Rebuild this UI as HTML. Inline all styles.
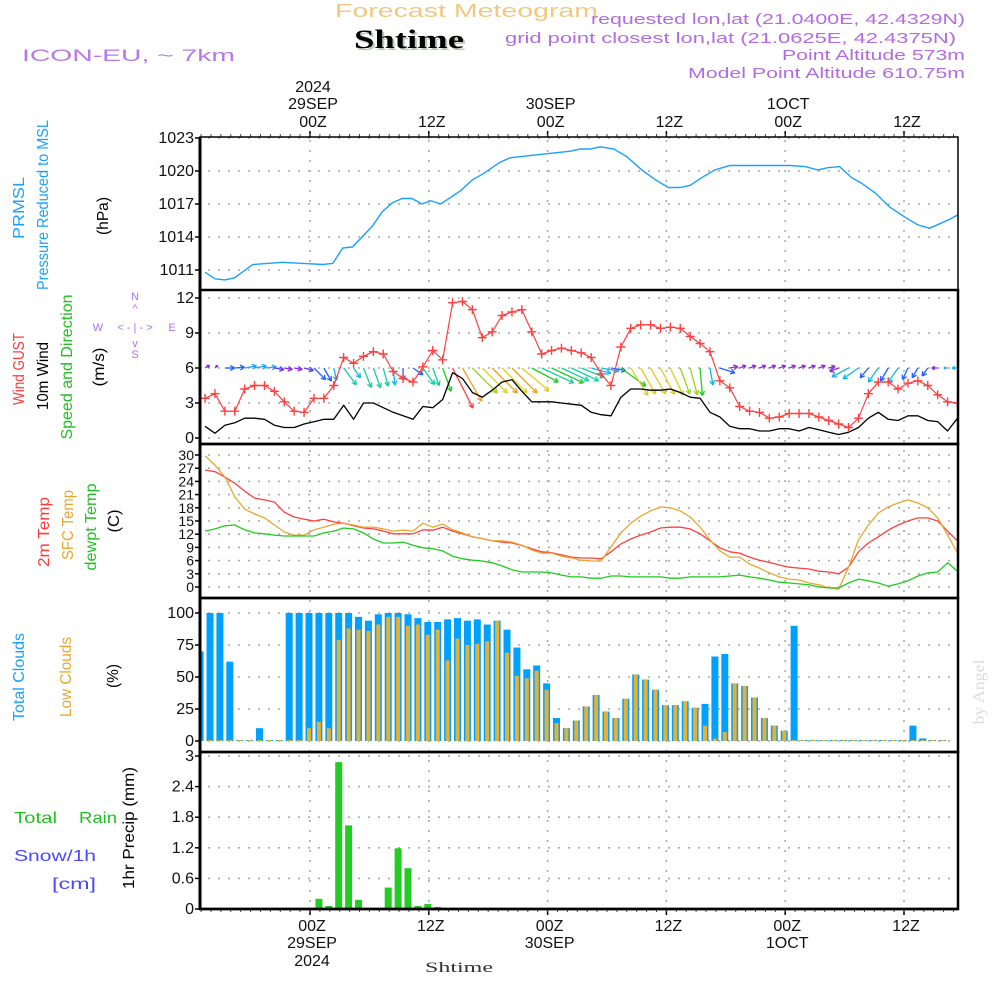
<!DOCTYPE html>
<html><head><meta charset="utf-8"><title>Forecast Meteogram - Shtime</title>
<style>
html,body{margin:0;padding:0;background:#fff;}
svg{display:block;font-family:"Liberation Sans",sans-serif;}
</style></head>
<body>
<svg id="chart" width="1000" height="1000" viewBox="0 0 1000 1000" xmlns="http://www.w3.org/2000/svg">
<rect x="0" y="0" width="1000" height="1000" fill="#fff"/>
<!-- header -->
<g>
<text x="335" y="17" font-size="18" fill="#f2c880" textLength="263" lengthAdjust="spacingAndGlyphs">Forecast Meteogram</text>
<text x="356" y="50" font-size="26" font-weight="bold" font-family="Liberation Serif,serif" fill="#b8ccb8" textLength="110" lengthAdjust="spacingAndGlyphs">Shtime</text>
<text x="354" y="48" font-size="26" font-weight="bold" font-family="Liberation Serif,serif" fill="#000" textLength="110" lengthAdjust="spacingAndGlyphs">Shtime</text>
<text x="22" y="61" font-size="17" fill="#b878e8" textLength="213" lengthAdjust="spacingAndGlyphs">ICON-EU, ~ 7km</text>
<text x="591" y="24" font-size="15" fill="#b26be0" textLength="374" lengthAdjust="spacingAndGlyphs">requested lon,lat (21.0400E, 42.4329N)</text>
<text x="505" y="43" font-size="15" fill="#b26be0" textLength="451" lengthAdjust="spacingAndGlyphs">grid point closest lon,lat (21.0625E, 42.4375N)</text>
<text x="782" y="60" font-size="15" fill="#b26be0" textLength="183" lengthAdjust="spacingAndGlyphs">Point Altitude 573m</text>
<text x="688" y="78" font-size="15" fill="#b26be0" textLength="277" lengthAdjust="spacingAndGlyphs">Model Point Altitude 610.75m</text>
</g>
<g id="grid"></g>
<g id="marks"></g>
<g id="frame"></g>
<g id="axes" font-size="16" fill="#111"></g>
<!-- left side labels -->
<g font-size="16">
<text transform="translate(24,208) rotate(-90)" text-anchor="middle" fill="#1aa0ff" textLength="62" lengthAdjust="spacingAndGlyphs">PRMSL</text>
<text transform="translate(48,205) rotate(-90)" text-anchor="middle" fill="#1aa0ff" textLength="170" lengthAdjust="spacingAndGlyphs">Pressure Reduced to MSL</text>
<text transform="translate(108,216) rotate(-90)" text-anchor="middle" fill="#000" textLength="38" lengthAdjust="spacingAndGlyphs">(hPa)</text>
<text transform="translate(24,369) rotate(-90)" text-anchor="middle" fill="#ff3b3b" textLength="72" lengthAdjust="spacingAndGlyphs">Wind GUST</text>
<text transform="translate(48,376) rotate(-90)" text-anchor="middle" fill="#000" textLength="68" lengthAdjust="spacingAndGlyphs">10m Wind</text>
<text transform="translate(72,367) rotate(-90)" text-anchor="middle" fill="#20c020" textLength="145" lengthAdjust="spacingAndGlyphs">Speed and Direction</text>
<text transform="translate(104,367) rotate(-90)" text-anchor="middle" fill="#000" textLength="39" lengthAdjust="spacingAndGlyphs">(m/s)</text>
<text transform="translate(49,532) rotate(-90)" text-anchor="middle" fill="#ff3b3b" textLength="70" lengthAdjust="spacingAndGlyphs">2m Temp</text>
<text transform="translate(73,525) rotate(-90)" text-anchor="middle" fill="#e8a830" textLength="70" lengthAdjust="spacingAndGlyphs">SFC Temp</text>
<text transform="translate(96,527) rotate(-90)" text-anchor="middle" fill="#20c020" textLength="87" lengthAdjust="spacingAndGlyphs">dewpt Temp</text>
<text transform="translate(119,521) rotate(-90)" text-anchor="middle" fill="#000" textLength="23" lengthAdjust="spacingAndGlyphs">(C)</text>
<text transform="translate(24,677) rotate(-90)" text-anchor="middle" fill="#1aa0ff" textLength="88" lengthAdjust="spacingAndGlyphs">Total Clouds</text>
<text transform="translate(71,677) rotate(-90)" text-anchor="middle" fill="#e8a830" textLength="80" lengthAdjust="spacingAndGlyphs">Low Clouds</text>
<text transform="translate(118,676) rotate(-90)" text-anchor="middle" fill="#000" textLength="24" lengthAdjust="spacingAndGlyphs">(%)</text>
<text transform="translate(134,828) rotate(-90)" text-anchor="middle" fill="#000" textLength="122" lengthAdjust="spacingAndGlyphs">1hr Precip (mm)</text>
<text x="14" y="823" fill="#20c020" textLength="43" lengthAdjust="spacingAndGlyphs">Total</text>
<text x="79" y="823" fill="#20c020" textLength="38" lengthAdjust="spacingAndGlyphs">Rain</text>
<text x="14" y="861" fill="#4848ff" textLength="82" lengthAdjust="spacingAndGlyphs">Snow/1h</text>
<text x="52" y="889" fill="#4848ff" textLength="44" lengthAdjust="spacingAndGlyphs">[cm]</text>
<text transform="translate(984,692) rotate(-90)" text-anchor="middle" fill="#dcdcdc" font-family="Liberation Serif,serif" textLength="65" lengthAdjust="spacingAndGlyphs">by Angel</text>
</g>
<g font-size="11" fill="#b070f0" text-anchor="middle">
<text x="135" y="300">N</text>
<text x="135" y="312">^</text>
<text x="98" y="331">W</text>
<text x="172" y="331">E</text>
<text x="135" y="331">&lt; - | - &gt;</text>
<text x="135" y="347">v</text>
<text x="135" y="358">S</text>
</g>
<text x="425" y="972" font-size="15" font-family="Liberation Serif,serif" fill="#333" textLength="68" lengthAdjust="spacingAndGlyphs">Shtime</text>
</svg>
<script>
// ---- data ----
const lineStartHour = -10.6;
const windSpeed = [1.0,0.4,1.1,1.3,1.7,1.7,1.6,1.1,0.9,0.9,1.2,1.4,1.6,1.6,2.8,1.6,3.0,3.0,2.6,2.2,1.9,1.6,2.7,2.6,3.3,5.6,5.1,3.9,3.5,4.1,4.8,5.0,4.0,3.1,3.1,3.1,3.0,2.9,2.8,2.2,2.0,1.9,3.5,4.2,4.2,4.1,4.1,4.2,3.9,3.5,3.4,2.2,1.8,1.0,0.8,0.8,0.6,0.6,0.8,0.8,0.6,0.9,0.7,0.5,0.3,0.5,0.9,1.7,2.2,1.6,1.5,1.9,1.9,1.5,1.4,0.6,1.7];
const windGust = [3.4,3.8,2.3,2.3,4.2,4.5,4.5,4.0,3.1,2.3,2.2,3.4,3.4,4.5,6.9,6.4,7.0,7.4,7.2,5.7,5.1,4.8,6.1,7.5,6.7,11.6,11.7,11.0,8.6,9.1,10.5,10.8,11.0,9.1,7.2,7.5,7.7,7.5,7.3,6.9,5.5,4.5,7.8,9.4,9.7,9.7,9.4,9.5,9.4,8.7,8.1,7.4,4.9,4.3,2.7,2.3,2.2,1.7,1.8,2.1,2.1,2.1,1.8,1.5,1.2,0.9,1.7,3.8,4.8,4.8,4.2,4.7,4.9,4.5,3.7,3.1,3.0];
const windDir = [-30,-45,0,-5,-10,-10,-5,10,10,10,15,45,60,77,53,55,68,70,75,84,90,34,55,70,70,63,60,45,45,45,45,45,40,28,25,25,25,25,22,15,10,10,36,58,60,60,62,65,70,75,85,80,18,-10,-20,-20,-20,-20,-20,-20,-20,-20,-20,-15,160,152,145,130,125,120,125,115,120,125,180,180,180];
const arrowSpeed = [0.7,0.5,1.3,1.3,1.6,1.6,1.6,1.3,1.1,1.1,1.3,2.2,2.0,1.7,2.8,1.6,2.8,2.8,2.5,2.3,1.6,1.6,2.7,2.5,3.3,6.0,5.1,4.7,4.7,4.7,4.7,4.7,4.7,4.0,4.7,4.7,4.0,4.0,3.3,2.7,2.4,2.0,4.1,4.3,4.0,4.0,4.0,4.0,3.7,3.7,3.7,2.3,2.1,1.1,0.9,0.9,0.9,0.9,0.9,0.9,0.9,0.9,0.9,0.9,1.3,2.5,2.5,1.7,2.3,2.0,2.3,1.7,1.5,1.3,0.8,0.5,0.7];
const arrowColorKey = ['pu','pu','bl','bl','lb','lb','lb','bv','pu','pu','bv','bl','bl','cy','te','cy','te','te','te','cy','bl','bl','te','te','gr','rd','or','yg','ye','or','ye','or','ye','gr','te','gr','te','te','te','cy','cy','bl','gr','ye','ye','ye','ye','ye','yg','yg','gr','cy','bl','pu','pu','pu','pu','pu','pu','pu','pu','pu','pu','pu','pu','cy','cy','bl','cy','bl','cy','bl','bl','bl','pu','lb','cy'];
const temp2m = [26.6,26.2,25,23.6,21.8,20.2,19.8,19.3,17,15.9,15.4,15,15.4,14.8,14.5,13.9,13.4,13.2,12.7,12.1,12.1,12.1,13,12.9,13.6,12.7,12.1,11.4,11,10.5,10.2,10,9.4,8.7,8.0,7.8,7.3,6.8,6.6,6.6,6.4,8,9.8,10.9,11.8,12.5,13.4,13.6,13.6,13.2,12.1,10.5,8.9,8.0,7.7,6.8,6.1,5.6,5.0,4.5,4.3,4.1,3.6,3.4,3.0,4.5,8.0,10,11.4,12.9,14.1,15,15.7,15.7,15,12.7,10.5];
const tempSfc = [29.8,27.7,25,20.5,17.7,16.6,15.7,14.1,12.5,11.8,11.8,13,13.6,14.3,14.5,14.1,13.6,13.6,13.2,12.7,12.9,12.7,14.5,13.6,14.3,13,12.3,11.4,11,10.5,10.5,10.2,9.5,8.4,7.7,7.7,7.0,6.6,6.1,5.9,5.9,9.1,12.3,14.5,16.1,17.3,18.2,18,17.3,15.9,13.6,10.7,8.2,6.8,6.8,5.2,4.3,3.2,2.3,1.8,1.6,0.9,0.5,-0.2,-0.5,4.5,10.7,14.1,16.8,18.2,19.1,19.8,19.1,18,15.7,11.8,7.7];
const tempDew = [12.7,13.2,13.9,14.1,13,12.3,12.1,11.8,11.6,11.6,11.6,11.6,12.3,12.7,13.4,13.2,12.3,10.9,10,10,10.2,9.5,8.9,8.7,8.2,7.0,6.4,6.1,5.9,5.5,4.8,3.9,3.4,3.4,3.4,3.2,2.7,2.3,2.3,2.0,2.0,2.5,2.5,2.3,2.3,2.3,2.3,2.0,2.0,2.3,2.3,2.3,2.3,2.5,2.7,2.3,2.0,1.6,1.1,0.9,0.7,0.5,0,-0.2,-0.2,0.9,1.8,1.4,0.9,0.2,0.7,1.4,2.5,3.2,3.4,5.5,3.6];
const pressHours = [-10.6,-9.6,-8.6,-7.6,-5.8,-2.8,-0.7,1.3,2.3,3.3,4.3,6.3,7.3,8.3,9.3,10.3,11.3,12.2,13.2,15.2,16.4,17.4,19.2,20.2,22.2,24.2,26.3,27.3,28.3,29.3,30.7,32.0,33.5,34.9,36.2,37.4,38.4,39.4,40.9,42.4,43.9,46.5,48.5,50.0,51.3,52.3,53.5,54.7,55.7,57.1,58.6,60.1,61.4,62.6,63.6,64.6,65.4];
const pressValues = [1010.8,1010.2,1010.1,1010.3,1011.5,1011.7,1011.6,1011.5,1011.6,1013.0,1013.1,1015.0,1016.3,1017.1,1017.5,1017.5,1017.0,1017.3,1017.0,1018.2,1019.2,1019.7,1020.8,1021.2,1021.4,1021.6,1021.8,1022.0,1022.0,1022.2,1022.0,1021.3,1020.1,1019.2,1018.5,1018.5,1018.7,1019.3,1020.1,1020.5,1020.5,1020.5,1020.5,1020.4,1020.1,1020.3,1020.4,1019.4,1018.9,1018.0,1016.7,1015.8,1015.1,1014.8,1015.2,1015.6,1016.0];
const barStartHour = -11;
const totalClouds = [70,100,100,62,0,0,10,0,0,100,100,100,100,100,100,100,97,94,99,100,100,99,96,93,93,95,96,94,95,91,94,87,73,56,59,45,18,10,16,27,36,23,18,33,52,48,40,28,28,31,26,29,66,68,45,43,34,18,12,8,90,0,0,0,0,0,0,0,0,0,0,0,12,2,0,0];
const lowClouds = [0,0,0,0,0,0,0,0,0,0,0,10,15,10,79,88,87,86,91,97,97,90,91,83,87,63,80,75,76,78,94,69,51,49,55,40,14,10,16,27,36,23,18,33,52,48,40,28,28,31,26,12,2,7,45,43,34,18,12,8,0,0,0,0,0,0,0,0,0,0,0,0,0,0,0,0];
const precip = [0,0,0,0,0,0,0,0,0,0,0,0,0.2,0.06,2.88,1.64,0.18,0,0,0.42,1.19,0.8,0.06,0.1,0.04,0,0,0,0,0,0,0,0,0,0,0,0,0,0,0,0,0,0,0,0,0,0,0,0,0,0,0,0,0,0,0,0,0,0,0,0,0,0,0,0,0,0,0,0,0,0,0,0,0,0,0];
const pressTicks = [1023,1020,1017,1014,1011];
const windTicks = [12,9,6,3,0];
const tempTicks = [30,27,24,21,18,15,12,9,6,3,0];
const cloudTicks = [100,75,50,25,0];
const precipTicks = ['3','2.4','1.8','1.2','0.6','0'];
const timeTickHours = [0,12,24,36,48,60];
const timeTickHour = ['00Z','12Z','00Z','12Z','00Z','12Z'];
const timeTickDay = ['29SEP','','30SEP','','1OCT',''];

// ---- scales ----
const X0 = 200, X1 = 958;
const X = h => 310 + 9.9*h;
const yP = p => 138 + (1023-p)*11;
const yW = v => 438 - v*11.667;
const yT = t => 587 - t*4.4;
const yC = c => 741 - c*1.28;
const yR = r => 909 - r*51;
const panels = [[137,290],[290,444],[444,598],[598,752],[752,909]];
const colorMap = {pu:'#9028e0',bl:'#2060ff',lb:'#20a0ff',bv:'#5a40ff',cy:'#10b8e8',te:'#10d0a0',gr:'#20cc20',yg:'#a0d020',ye:'#e0d020',or:'#f0a020',rd:'#ff4040'};

const NS='http://www.w3.org/2000/svg';
function mk(tag, attrs, parent){const e=document.createElementNS(NS,tag);for(const k in attrs)e.setAttribute(k,attrs[k]);parent.appendChild(e);return e;}
const grid=document.getElementById('grid'), marks=document.getElementById('marks'), frame=document.getElementById('frame'), axes=document.getElementById('axes');

// clip
const defs=mk('defs',{},document.getElementById('chart'));
const cp=mk('clipPath',{id:'plotclip'},defs);
mk('rect',{x:X0,y:137,width:X1-X0,height:772},cp);
marks.setAttribute('clip-path','url(#plotclip)');

// horizontal grid + y tick labels
function hgrid(ticks, yf, labels, name){
  ticks.forEach((t,i)=>{
    const y=yf(+t);
    const g=mk('line',{x1:X0+8,x2:X1,y1:y,y2:y,stroke:'#aaa','stroke-width':1.6,'stroke-dasharray':'2 8'},grid);
    
    
    const tk=mk('line',{x1:X0-5,x2:X0,y1:y,y2:y,stroke:'#000','stroke-width':1.5},frame);
    
    
    const tx=mk('text',{x:X0-6,y:y+5,'text-anchor':'end','font-size':name==='temp'?14:16},axes);
    tx.textContent=labels[i];
    
    
  });
}
hgrid(pressTicks,yP,pressTicks,'pressure');
hgrid(windTicks,yW,windTicks,'wind');
hgrid(tempTicks,yT,tempTicks,'temp');
hgrid(cloudTicks,yC,cloudTicks,'cloud');
hgrid(precipTicks,yR,precipTicks,'precip');

// vertical grid
timeTickHours.forEach(h=>{
  const x=X(h);
  const v=mk('line',{x1:x,x2:x,y1:140,y2:907,stroke:'#aaa','stroke-width':1.6,'stroke-dasharray':'2 8'},grid);
  
  
  mk('line',{x1:x,x2:x,y1:131,y2:137,stroke:'#000','stroke-width':1.5},frame);
  mk('line',{x1:x,x2:x,y1:909,y2:915,stroke:'#000','stroke-width':1.5},frame);
});
for(let h=-11;h<=65;h++){
  const x=X(h); if(x<X0||x>X1) continue;
  mk('line',{x1:x,x2:x,y1:134,y2:137,stroke:'#444','stroke-width':1},frame);
  mk('line',{x1:x,x2:x,y1:909,y2:912,stroke:'#444','stroke-width':1},frame);
}
// time labels
timeTickHours.forEach((h,i)=>{
  const x=X(h)+3;
  const a=mk('text',{x:x,y:127,'text-anchor':'middle'},axes); a.textContent=timeTickHour[i];
  
  
  const b=mk('text',{x:x-1,y:931,'text-anchor':'middle'},axes); b.textContent=timeTickHour[i];
  
  
  if(timeTickDay[i]){
    const c=mk('text',{x:x,y:109,'text-anchor':'middle'},axes); c.textContent=timeTickDay[i];
    
    
    const d=mk('text',{x:x-1,y:948,'text-anchor':'middle'},axes); d.textContent=timeTickDay[i];
    
    
  }
  if(i===0){
    const e=mk('text',{x:x,y:92,'text-anchor':'middle'},axes); e.textContent='2024';
    
    
    const f=mk('text',{x:x-1,y:966,'text-anchor':'middle'},axes); f.textContent='2024';
    
    
  }
});

// line helper
function poly(vals, yf, color, name, width){
  const pts=vals.map((v,i)=>X(lineStartHour+i).toFixed(1)+','+yf(v).toFixed(1)).join(' ');
  const p=mk('polyline',{points:pts,fill:'none',stroke:color,'stroke-width':width||1.3,'stroke-linejoin':'round'},marks);
  
  
}
// pressure
{
  const pts=pressHours.map((h,i)=>X(h).toFixed(1)+','+yP(pressValues[i]).toFixed(1)).join(' ');
  const p=mk('polyline',{points:pts,fill:'none',stroke:'#1aa0ff','stroke-width':1.4},marks);
  
  
}
// wind arrows
windDir.forEach((d,i)=>{
  const x=X(lineStartHour+i), y=yW(6);
  const len=arrowSpeed[i]*7.5, r=d*Math.PI/180;
  const x2=x+len*Math.cos(r), y2=y+len*Math.sin(r);
  const col=colorMap[arrowColorKey[i]]||'#2060ff';
  const g=mk('g',{stroke:col,'stroke-width':1.3,fill:'none'},marks);
  
  
  mk('line',{x1:x,y1:y,x2:x2,y2:y2},g);
  const hl=Math.min(5,len*0.6);
  [r+Math.PI-0.5, r+Math.PI+0.5].forEach(a=>mk('line',{x1:x2,y1:y2,x2:x2+hl*Math.cos(a),y2:y2+hl*Math.sin(a)},g));
});
poly(windSpeed,yW,'#000','wind-speed-line',1.3);
poly(windGust,yW,'#ff4040','wind-gust-line',1.2);
windGust.forEach((v,i)=>{
  const x=X(lineStartHour+i), y=yW(v);
  const m=mk('path',{d:`M${x-4.5},${y}H${x+4.5}M${x},${y-4.5}V${y+4.5}`,stroke:'#ff4040','stroke-width':1.4},marks);
  
  
});
// temperatures
poly(temp2m,yT,'#ff4040','temp-2m-line',1.3);
poly(tempSfc,yT,'#e8a830','temp-sfc-line',1.3);
poly(tempDew,yT,'#20cc20','dewpoint-line',1.3);
// clouds
totalClouds.forEach((c,i)=>{
  const cx=X(barStartHour+i-0.1);
  const y=yC(c), h=Math.max(1,yC(0)-y);
  const b=mk('rect',{x:cx-3.5,y:yC(0)-h,width:7,height:h,fill:'#00a0ff'},marks);
  
  
  const l=lowClouds[i], hh=Math.max(1,yC(0)-yC(l));
  const o=mk('rect',{x:cx-2,y:yC(0)-hh,width:4,height:hh,fill:'#e8b030'},marks);
  
  
});
// precip
precip.forEach((r,i)=>{
  if(r<=0) return;
  const cx=X(barStartHour+i-0.1);
  const y=yR(r);
  const b=mk('rect',{x:cx-3.5,y:y,width:7,height:yR(0)-y,fill:'#22cc22'},marks);
  
  
});
// frames
panels.forEach(([t,b],i)=>{
  const r=mk('rect',{x:X0,y:t,width:X1-X0,height:b-t,fill:'none',stroke:'#000','stroke-width':i===0?1.5:2.5},frame);
  
  
});
mk('line',{x1:X0,x2:X0,y1:137,y2:909,stroke:'#000','stroke-width':3},frame);
mk('line',{x1:X0,x2:X1,y1:909,y2:909,stroke:'#000','stroke-width':2.5},frame);
</script>
</body></html>
